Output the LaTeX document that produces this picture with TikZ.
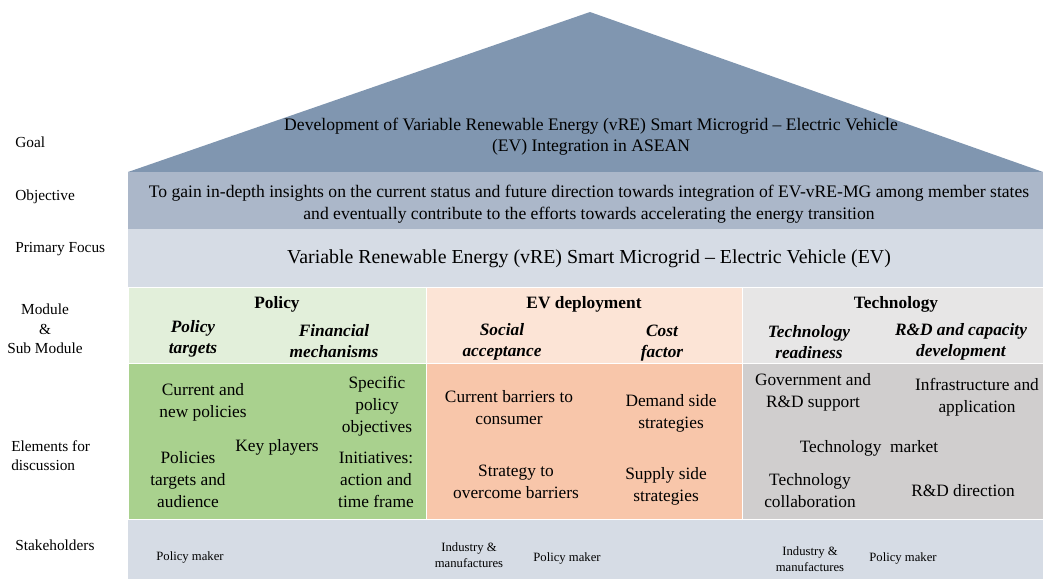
\documentclass[tikz,border=0pt]{standalone}
\usepackage{fontspec}
\setmainfont{Liberation Serif}
\definecolor{roofc}{HTML}{8096B0}
\definecolor{objc}{HTML}{ABB7C9}
\definecolor{focc}{HTML}{D6DCE5}
\definecolor{polh}{HTML}{E2EFDA}
\definecolor{pole}{HTML}{A9D18E}
\definecolor{evh}{HTML}{FCE4D6}
\definecolor{eve}{HTML}{F8C6AA}
\definecolor{tchh}{HTML}{E7E6E6}
\definecolor{tche}{HTML}{D0CECE}
\tikzset{
  lbl/.style={font=\fontsize{11.5}{14.5}\selectfont, anchor=west, inner sep=0pt, align=left},
  txt/.style={font=\fontsize{13}{16.5}\selectfont, align=center, inner sep=0pt},
  hd/.style={font=\fontsize{13}{16}\selectfont\bfseries, align=center, inner sep=0pt},
  subm/.style={font=\fontsize{13}{16}\selectfont\bfseries\itshape, align=center, inner sep=0pt},
  sm/.style={font=\fontsize{9.5}{12}\selectfont, align=center, inner sep=0pt},
  cell/.style={draw=white, line width=0.75pt}
}
\begin{document}
\begin{tikzpicture}[x=0.75pt,y=-0.75pt]
\useasboundingbox (0,0) rectangle (1043,579);
% house structure
\fill[roofc] (128,172) -- (590,12) -- (1043,172) -- cycle;
\fill[objc] (128,172) rectangle (1043,229);
\fill[focc] (128,229) rectangle (1043,287);
\fill[cell,fill=polh] (128,287) rectangle (426,363);
\fill[cell,fill=evh] (426,287) rectangle (742,363);
\fill[cell,fill=tchh] (742,287) rectangle (1043,363);
\filldraw[cell,fill=pole] (128.5,363) rectangle (426,519);
\filldraw[cell,fill=eve] (426,363) rectangle (742,519);
\filldraw[cell,fill=tche] (742,363) rectangle (1043,519);
\fill[focc] (128,519.5) rectangle (1043,579);
% left labels
\node[lbl] (lgoal) at (15,142) {Goal};
\node[lbl] (lobj) at (15,197) {Objective};
\node[lbl] (lfoc) at (15,249) {Primary Focus};
\node[lbl, anchor=center, align=center] (lmod) at (45,329) {Module\\\&\\Sub Module};
\node[lbl] (lel) at (11,456) {Elements for\\discussion};
\node[lbl] (lst) at (15,545) {Stakeholders};
% goal, objective, focus
\node[txt, font=\fontsize{13.2}{15.5}\selectfont] (goal) at (591,137) {Development of Variable Renewable Energy (vRE) Smart Microgrid -- Electric Vehicle\\(EV) Integration in ASEAN};
\node[txt, font=\fontsize{13.2}{16.5}\selectfont] (obj) at (589,204) {To gain in-depth insights on the current status and future direction towards integration of EV-vRE-MG among member states\\and eventually contribute to the efforts towards accelerating the energy transition};
\node[txt, font=\fontsize{14.9}{17}\selectfont] (foc) at (589,259) {Variable Renewable Energy (vRE) Smart Microgrid -- Electric Vehicle (EV)};
% modules
\node[hd] (mpol) at (277,304) {Policy};
\node[subm] (spt) at (193,339) {Policy\\targets};
\node[subm] (sfm) at (334,341) {Financial\\mechanisms};
\node[hd] (mev) at (584,304) {EV deployment};
\node[subm] (ssa) at (502,342) {Social\\acceptance};
\node[subm] (scf) at (662,343) {Cost\\factor};
\node[hd] (mtech) at (896,304) {Technology};
\node[subm] (str) at (809,342) {Technology\\readiness};
\node[subm] (srd) at (961,342) {R\&D and capacity\\development};
% policy elements
\node[txt] (e1) at (203,402) {Current and\\new policies};
\node[txt] (e2) at (377,406) {Specific\\policy\\objectives};
\node[txt] (e3) at (277,447) {Key players};
\node[txt] (e4) at (188,480) {Policies\\targets and\\audience};
\node[txt] (e5) at (376,480) {Initiatives:\\action and\\time frame};
% ev elements
\node[txt] (e6) at (509,408) {Current barriers to\\consumer};
\node[txt] (e7) at (671,413) {Demand side\\strategies};
\node[txt] (e8) at (516,482) {Strategy to\\overcome barriers};
\node[txt] (e9) at (666,486) {Supply side\\strategies};
% tech elements
\node[txt] (e10) at (813,392) {Government and\\R\&D support};
\node[txt] (e11) at (977,397) {Infrastructure and\\application};
\node[txt] (e12) at (869,448) {Technology\ \ market};
\node[txt] (e13) at (810,491) {Technology\\collaboration};
\node[txt] (e14) at (963,491) {R\&D direction};
% stakeholders
\node[sm] (s1) at (190,557) {Policy maker};
\node[sm] (s2) at (469,555) {Industry \&\\manufactures};
\node[sm] (s3) at (567,558) {Policy maker};
\node[sm] (s4) at (810,559) {Industry \&\\manufactures};
\node[sm] (s5) at (903,558) {Policy maker};
\end{tikzpicture}
\end{document}
